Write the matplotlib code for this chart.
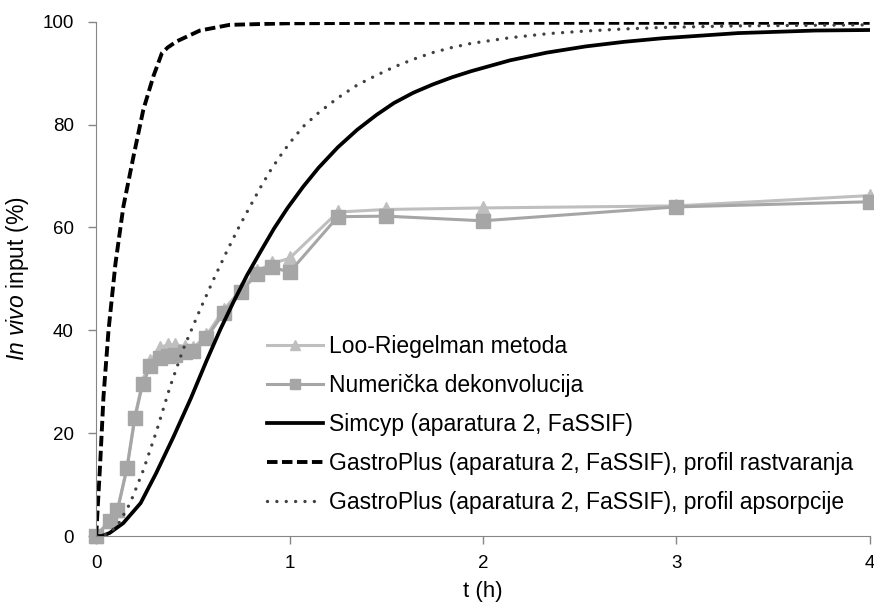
import numpy as np
import matplotlib
matplotlib.use("Agg")
import matplotlib.pyplot as plt

plt.rcParams['font.family'] = ['Liberation Sans', 'DejaVu Sans']
plt.rcParams['mathtext.fontset'] = 'custom'
plt.rcParams['mathtext.rm'] = 'Liberation Sans'
plt.rcParams['mathtext.it'] = 'Liberation Sans:italic'

# eksperimentalni podaci
t_exp = [0, 0.07, 0.11, 0.16, 0.2, 0.24, 0.28, 0.33, 0.37, 0.41, 0.46, 0.5,
         0.57, 0.66, 0.75, 0.83, 0.91, 1.0, 1.25, 1.5, 2, 3, 4]
loo_riegelman = [0, 3.0, 5.0, 13.5, 23.2, 30.0, 34.0, 36.6, 37.2, 37.2, 36.8, 36.5,
                 39.0, 44.0, 48.0, 51.5, 53.0, 54.0, 63.0, 63.5, 63.8, 64.2, 66.2]
numericka = [0, 3.0, 5.0, 13.2, 22.9, 29.5, 33.0, 34.6, 35.0, 35.2, 35.7, 36.0,
             38.5, 43.4, 47.5, 51.0, 52.3, 51.3, 62.1, 62.2, 61.3, 64.0, 65.0]

# Simcyp
t_sim = [0, 0.03, 0.07, 0.14, 0.23, 0.31, 0.4, 0.49, 0.57, 0.64, 0.71, 0.78,
         0.85, 0.92, 0.99, 1.07, 1.15, 1.25, 1.35, 1.45, 1.54, 1.64, 1.74, 1.84,
         1.94, 2.14, 2.33, 2.53, 2.73, 2.93, 3.32, 3.72, 4.0]
y_sim = [0, 0, 0.6, 2.5, 6.4, 12.2, 19.3, 26.8, 34.0, 40.0, 45.5, 50.7,
         55.3, 59.8, 63.8, 67.9, 71.6, 75.6, 79.0, 81.9, 84.2, 86.2, 87.8, 89.2,
         90.4, 92.5, 94.0, 95.2, 96.1, 96.8, 97.8, 98.3, 98.4]

# GastroPlus - profil rastvaranja
t_gp_dis = [0, 0.021, 0.038, 0.064, 0.1, 0.141, 0.193, 0.244, 0.296, 0.34, 0.37,
            0.417, 0.537, 0.69, 0.985, 1.5, 2, 3, 4]
y_gp_dis = [0, 14.2, 27.1, 40, 53, 64.1, 73.8, 82.9, 89.4, 93.9, 95.0,
            96.2, 98.3, 99.4, 99.7, 99.8, 99.8, 99.8, 99.8]

# GastroPlus - profil apsorpcije
t_gp_abs = [0, 0.05, 0.107, 0.176, 0.244, 0.314, 0.382, 0.451, 0.537, 0.606, 0.675,
            0.74, 0.796, 0.85, 0.9, 0.95, 1.0, 1.07, 1.15, 1.25, 1.35, 1.45, 1.54,
            1.64, 1.74, 1.84, 1.94, 2.14, 2.34, 2.53, 2.73, 2.93, 3.32, 4.0]
y_gp_abs = [0, 0.3, 1.8, 6.4, 12.8, 20.6, 29, 36.4, 44, 49.8, 55.3,
            60.2, 64.1, 67.8, 71.0, 73.8, 76.4, 79.6, 82.3, 85.2, 87.7, 89.6, 91.2,
            92.7, 94.0, 95.0, 95.8, 96.9, 97.7, 98.2, 98.6, 98.9, 99.2, 99.4]

fig = plt.figure(figsize=(8.74, 6.05), dpi=100)
ax = fig.add_axes([0.11, 0.114, 0.885, 0.85])

ax.plot(t_exp, loo_riegelman, color="#BFBFBF", lw=2.2, marker="^", ms=10,
        label="Loo-Riegelman metoda", clip_on=False)
ax.plot(t_exp, numericka, color="#A6A6A6", lw=2.2, marker="s", ms=9.5,
        label="Numerička dekonvolucija", clip_on=False)
ax.plot(t_sim, y_sim, color="black", lw=2.7, label="Simcyp (aparatura 2, FaSSIF)")
ax.plot(t_gp_dis, y_gp_dis, color="black", lw=2.8, linestyle=(0, (2.7, 1.15)),
        label="GastroPlus (aparatura 2, FaSSIF), profil rastvaranja")
ax.plot(t_gp_abs, y_gp_abs, color="#404040", lw=2.4, linestyle=(0, (0.01, 2.8)),
        dash_capstyle="round", label="GastroPlus (aparatura 2, FaSSIF), profil apsorpcije")

ax.set_xlim(0, 4)
ax.set_ylim(0, 100)
ax.set_xticks([0, 1, 2, 3, 4])
ax.set_yticks([0, 20, 40, 60, 80, 100])
for s in ["top", "right"]:
    ax.spines[s].set_visible(False)
for s in ["left", "bottom"]:
    ax.spines[s].set_color("#868686")
ax.tick_params(colors="#868686", labelcolor="black", labelsize=13.5, length=6, width=1)
ax.tick_params(axis="x", pad=8)
ax.tick_params(axis="y", pad=10)

ax.set_xlabel("t (h)", fontsize=16, labelpad=6)
ax.set_ylabel(r"$\mathit{In\ vivo}$ input (%)", fontsize=16.5, labelpad=8)

ax.legend(loc="upper left", bbox_to_anchor=(0.3055, 0.447), bbox_transform=fig.transFigure,
          frameon=False, fontsize=16.5, handlelength=2.45, handletextpad=0.25,
          labelspacing=0.7, borderpad=0, borderaxespad=0, markerscale=0.75)

fig.savefig("out.png", dpi=100)
